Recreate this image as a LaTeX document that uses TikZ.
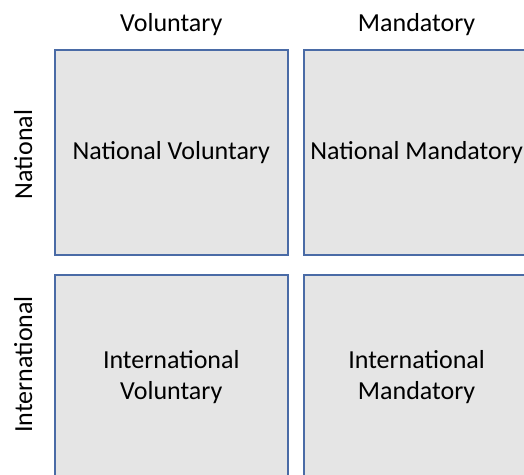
\documentclass[tikz,border=0pt]{standalone}
\usepackage{fontspec}
\setmainfont{Carlito}
\usetikzlibrary{positioning,calc}
\definecolor{cellgray}{HTML}{E5E5E5}
\definecolor{cellblue}{HTML}{4A6BA6}
\tikzset{
  cell/.style={draw=cellblue,fill=cellgray,line width=1.8pt,minimum width=233pt,
    minimum height=205pt,inner sep=0pt,align=center,font=\fontsize{26}{31}\selectfont},
  heading/.style={font=\fontsize{26}{31}\selectfont}
}

\begin{document}
\begin{tikzpicture}[x=1pt,y=-1pt]
\useasboundingbox (0,0) rectangle (524,474);
\node[cell] (nv) at (171.3,152.5) {National Voluntary};
\node[cell,minimum width=226pt,right=14pt of nv] (nm) {National Mandatory};
\node[cell,below=18pt of nv] (iv) {International\\Voluntary};
\node[cell,minimum width=226pt,right=14pt of iv] (im) {International\\Mandatory};
% column and row headings
\node[heading,above=10pt of nv] (vol) {Voluntary};
\node[heading,above=10pt of nm] (man) {Mandatory};
\node[heading,rotate=90,anchor=south] (nat) at ($(nv.west)+(-18,2)$) {National};
\node[heading,rotate=90,anchor=south] (int) at ($(iv.west)+(-18,-13)$) {International};
\end{tikzpicture}
\end{document}
